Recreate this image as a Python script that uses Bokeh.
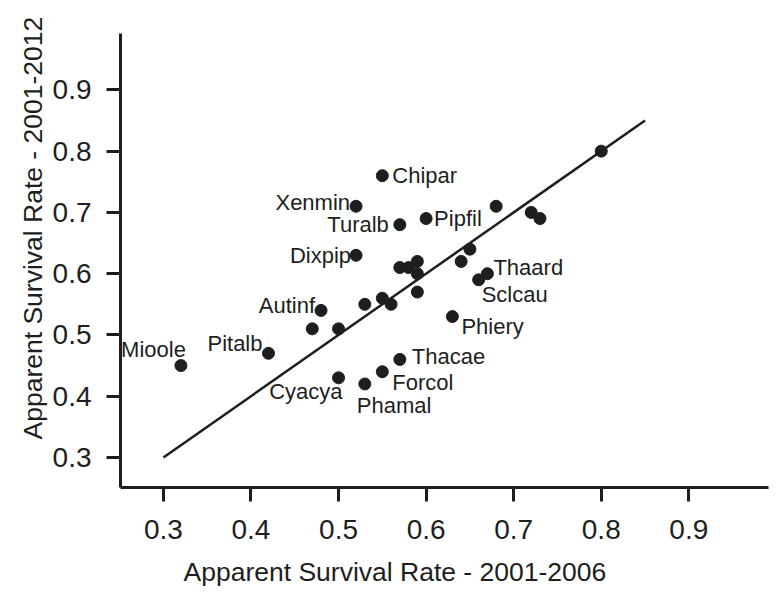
from bokeh.plotting import figure
from bokeh.models import Range1d, FixedTicker, ColumnDataSource, Title
from bokeh.core.properties import value
from bokeh.embed import file_html
from bokeh.resources import INLINE

# ---- data ----
species = ["Chipar", "Xenmin", "Turalb", "Pipfil", "Dixpip",
           "", "", "", "", "", "", "", "", "", "",
           "Autinf", "Pitalb", "Mioole", "Cyacya", "Phamal", "Forcol", "Thacae",
           "Phiery", "Sclcau", "Thaard", "", "", "", "", "", ""]
survival_2001_2006 = [0.55, 0.52, 0.57, 0.60, 0.52,
                      0.57, 0.58, 0.59, 0.59, 0.59, 0.55, 0.53, 0.56, 0.50, 0.47,
                      0.48, 0.42, 0.32, 0.50, 0.53, 0.55, 0.57,
                      0.63, 0.66, 0.67, 0.64, 0.65, 0.68, 0.72, 0.73, 0.80]
survival_2001_2012 = [0.76, 0.71, 0.68, 0.69, 0.63,
                      0.61, 0.61, 0.62, 0.60, 0.57, 0.56, 0.55, 0.55, 0.51, 0.51,
                      0.54, 0.47, 0.45, 0.43, 0.42, 0.44, 0.46,
                      0.53, 0.59, 0.60, 0.62, 0.64, 0.71, 0.70, 0.69, 0.80]
fit_x = [0.30, 0.85]
fit_y = [0.30, 0.85]
tick_values = [0.3, 0.4, 0.5, 0.6, 0.7, 0.8, 0.9]

# ---- label placement (style: screen-pixel offsets, alignment) ----
label_style = {
    "Chipar": (10, 0, "left"),
    "Xenmin": (-6, -4, "right"),
    "Turalb": (-11, 0, "right"),
    "Pipfil": (8, 0, "left"),
    "Dixpip": (-5, 0, "right"),
    "Thaard": (6, -6, "left"),
    "Sclcau": (3, 15, "left"),
    "Phiery": (9, 10, "left"),
    "Thacae": (12, -3, "left"),
    "Forcol": (10, 11, "left"),
    "Phamal": (-8, 22, "left"),
    "Cyacya": (4, 14, "right"),
    "Autinf": (-6, -5, "right"),
    "Pitalb": (-6, -10, "right"),
    "Mioole": (5, -16, "right"),
}

FONT = "Liberation Sans"
INK = "#1e1e1e"

p = figure(width=769, height=599, title=None,
           x_range=Range1d(0.251, 0.991), y_range=Range1d(0.251, 0.992),
           output_backend="svg", toolbar_location=None,
           min_border_left=120, min_border_right=1,
           min_border_top=33, min_border_bottom=111)
p.outline_line_color = None
p.xgrid.visible = False
p.ygrid.visible = False
p.background_fill_color = "white"
p.border_fill_color = "white"

for ax in (p.xaxis[0], p.yaxis[0]):
    ax.ticker = FixedTicker(ticks=tick_values)
    ax.axis_line_width = 3
    ax.axis_line_color = INK
    ax.major_tick_line_width = 3
    ax.major_tick_line_color = INK
    ax.major_tick_out = 14
    ax.major_tick_in = 0
    ax.minor_tick_line_color = None
    ax.major_label_text_font = FONT
    ax.major_label_text_font_size = "28px"
    ax.major_label_text_color = INK

p.xaxis[0].major_label_standoff = 18
p.yaxis[0].major_label_standoff = 15

# axis titles (offset toward the start of the axis, as in the reference)
xt = Title(text="Apparent Survival Rate - 2001-2006", align="left", offset=63,
           text_font=FONT, text_font_size="26.5px", text_font_style="normal",
           text_color=INK, standoff=26)
p.add_layout(xt, "below")
yt = Title(text="Apparent Survival Rate - 2001-2012", align="left", offset=48,
           text_font=FONT, text_font_size="26.5px", text_font_style="normal",
           text_color=INK, standoff=4)
p.add_layout(yt, "left")

# regression / 1:1 line
p.line(fit_x, fit_y, line_color=INK, line_width=2.5)

# points
src = ColumnDataSource(dict(x=survival_2001_2006, y=survival_2001_2012))
p.scatter("x", "y", source=src, size=12, fill_color=INK, line_color=INK)

# labels
lx, ly, lt, dx, dy, al = [], [], [], [], [], []
for name, xv, yv in zip(species, survival_2001_2006, survival_2001_2012):
    if name:
        ox, oy, a = label_style[name]
        lx.append(xv); ly.append(yv); lt.append(name)
        dx.append(ox); dy.append(oy); al.append(a)
lsrc = ColumnDataSource(dict(x=lx, y=ly, text=lt, dx=dx, dy=dy, align=al))
p.text("x", "y", text="text", source=lsrc, x_offset="dx", y_offset="dy",
       text_align="align", text_baseline="middle",
       text_font=value(FONT), text_font_size="22px", text_color=INK)

open("out.html", "w").write(file_html(p, INLINE))
